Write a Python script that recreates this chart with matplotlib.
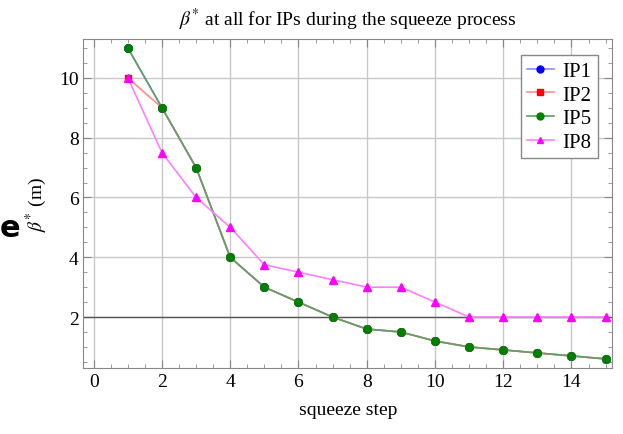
import matplotlib.pyplot as plt
from matplotlib.ticker import MultipleLocator

plt.rcParams['font.family'] = ['Liberation Serif', 'DejaVu Serif']
plt.rcParams['mathtext.fontset'] = 'stix'

# squeeze steps and beta* values (m) per IP
steps = [1, 2, 3, 4, 5, 6, 7, 8, 9, 10, 11, 12, 13, 14, 15]
ip1 = [11, 9, 7, 4, 3, 2.5, 2.0, 1.6, 1.5, 1.2, 1.0, 0.9, 0.8, 0.7, 0.6]
ip2 = [10, 9, 7, 4, 3, 2.5, 2.0, 1.6, 1.5, 1.2, 1.0, 0.9, 0.8, 0.7, 0.6]
ip5 = [11, 9, 7, 4, 3, 2.5, 2.0, 1.6, 1.5, 1.2, 1.0, 0.9, 0.8, 0.7, 0.6]
ip8 = [10, 7.5, 6, 5, 3.75, 3.5, 3.25, 3.0, 3.0, 2.5, 2, 2, 2, 2, 2]

series = [('IP1', ip1, 'blue', '#8c8cff', 'o'),
          ('IP2', ip2, 'red', '#ff8c8c', 's'),
          ('IP5', ip5, 'green', '#5f9f5f', 'o'),
          ('IP8', ip8, 'magenta', '#ff80ff', '^')]

fig = plt.figure(figsize=(6.23, 4.35), dpi=100)
ax = fig.add_axes([0.134, 0.152, 0.849, 0.756])

for name, vals, col, lcol, mk in series:
    ax.plot(steps, vals, color=lcol, linewidth=1.2)
    ax.plot(steps, vals, linestyle='none', marker=mk, color=col,
            markersize=5.5 if mk != 's' else 4.5)
    # legend handle
    ax.plot([], [], color=lcol, marker=mk, markerfacecolor=col,
            markeredgecolor=col, markersize=5, linewidth=1.2, label=name)

ax.axhline(2, color='#555555', linewidth=1.0, zorder=1)

ax.set_xlim(-0.3, 15.2)
ax.set_ylim(0.3, 11.3)
ax.set_xticks(range(0, 16, 2))
ax.set_yticks([2, 4, 6, 8, 10])
ax.xaxis.set_minor_locator(MultipleLocator(0.5))
ax.yaxis.set_minor_locator(MultipleLocator(0.5))
ax.tick_params(which='both', direction='in', top=True, right=True,
               color='#888888', labelsize=14)
ax.tick_params(which='major', length=6)
ax.tick_params(which='minor', length=3)
ax.grid(True, color='#c8c8c8', linewidth=1.0, zorder=0)
ax.set_axisbelow(True)
for s in ax.spines.values():
    s.set_color('#888888')

ax.set_xlabel('squeeze step', fontsize=14, labelpad=8)
ax.set_ylabel(r'$\beta^{*}$ (m)', fontsize=14, labelpad=7)
ax.set_title(r'$\beta^{*}$ at all for IPs during the squeeze process',
             fontsize=14, pad=10)

handles, labels = ax.get_legend_handles_labels()
ax.legend(handles, labels, loc='upper right', bbox_to_anchor=(0.972, 0.951),
          borderaxespad=0, fontsize=15, fancybox=False, edgecolor='#888888',
          framealpha=1, handlelength=1.3, handletextpad=0.4,
          labelspacing=0.2, borderpad=0.3)

# slide text at the left edge
fig.text(0.0, 0.475, 'e', fontsize=22, fontweight='bold',
         family='DejaVu Sans', va='center', ha='left')

plt.savefig('out.png', dpi=100)
plt.close()
